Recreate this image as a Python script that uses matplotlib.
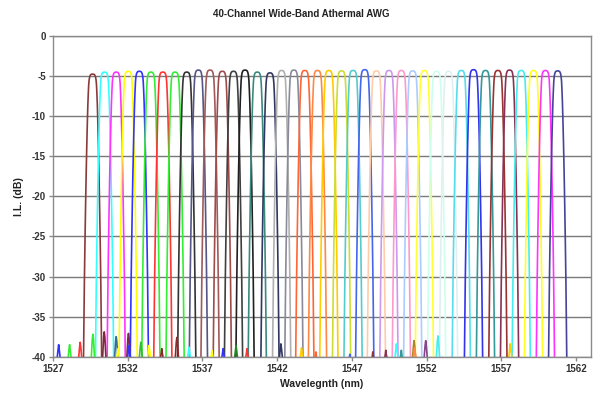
import matplotlib
matplotlib.use("Agg")
import matplotlib.pyplot as plt
import numpy as np

plt.rcParams['font.family'] = ['Liberation Sans', 'DejaVu Sans']

# Channel centre wavelengths (nm) and peak insertion loss (dB)
centers = [1529.65, 1530.45, 1531.23, 1532.03, 1532.78, 1533.55, 1534.35, 1535.17,
           1535.95, 1536.73, 1537.51, 1538.33, 1539.08, 1539.85, 1540.67, 1541.52,
           1542.30, 1543.12, 1543.85, 1544.70, 1545.46, 1546.31, 1547.08, 1547.86,
           1548.64, 1549.48, 1550.31, 1551.07, 1551.85, 1552.67, 1553.47, 1554.32,
           1555.14, 1555.94, 1556.77, 1557.55, 1558.33, 1559.15, 1559.95, 1560.77]
peaks = [-4.75, -4.5, -4.5, -4.4, -4.4, -4.5, -4.5, -4.5, -4.5, -4.25,
         -4.25, -4.4, -4.4, -4.25, -4.5, -4.6, -4.3, -4.25, -4.3, -4.3,
         -4.3, -4.35, -4.3, -4.2, -4.35, -4.3, -4.3, -4.35, -4.3, -4.4,
         -4.4, -4.3, -4.2, -4.3, -4.3, -4.25, -4.3, -4.3, -4.3, -4.35]
colors = ['#8b3a3a', '#33ffff', '#ff33ff', '#ffff00', '#3333ff', '#33ee33', '#ff3333', '#33ee33',
          '#333333', '#555588', '#a05a5a', '#a04a4a', '#404040', '#202020', '#3a8a80', '#303860',
          '#b0b0b0', '#8a8a9a', '#ff6633', '#ff8844', '#ffcc00', '#ccdd33', '#55cccc', '#4466ee',
          '#ffccaa', '#cc99ee', '#ff99cc', '#aaccff', '#ffff33', '#ccffee', '#e0f0f0', '#55ddee',
          '#3333ee', '#339999', '#993333', '#883355', '#44eeee', '#ffff22', '#ff33ff', '#444499']

# Passband profile: offset from centre (nm) and drop below peak (dB)
profile_offset = [0.00, 0.08, 0.14, 0.19, 0.23, 0.26, 0.29, 0.32, 0.35,
                  0.39, 0.43, 0.47, 0.51, 0.55, 0.58, 0.61, 0.64]
profile_drop = [0.0, 0.02, 0.1, 0.3, 0.7, 1.3, 2.5, 4.0, 6.0,
                9.0, 12.5, 16.5, 21.0, 26.0, 31.0, 36.0, 41.0]

# Crosstalk side lobes near the floor: wavelength (nm), level (dB), colour
lobe_wl = [1527.38, 1528.11, 1528.82, 1529.67, 1530.43, 1531.23, 1531.36, 1532.05,
           1532.09, 1532.88, 1533.43, 1534.28, 1535.29, 1536.10, 1537.64, 1538.38,
           1539.25, 1539.98, 1542.25, 1543.63, 1544.59, 1546.86, 1548.40, 1549.27,
           1549.98, 1550.31, 1551.16, 1551.20, 1551.94, 1552.76, 1557.60]
lobe_db = [-38.5, -38.5, -38.2, -37.2, -36.9, -37.5, -39.0, -37.1,
           -38.6, -38.2, -38.6, -39.0, -37.6, -38.8, -39.2, -39.0,
           -38.6, -39.0, -38.4, -38.9, -39.4, -39.7, -39.4, -39.2,
           -38.4, -39.2, -38.0, -38.9, -38.0, -37.4, -38.4]
lobe_colors = ['#3333ff', '#33ee33', '#ff3333', '#33ee33', '#7a2a3a', '#3a6a9a', '#ffff00', '#7a2a4a',
               '#3333ff', '#33bb33', '#ffff00', '#8b2a2a', '#8b2a2a', '#33ffff', '#ffff00', '#3333ff',
               '#228822', '#ff3333', '#303860', '#ffcc00', '#ff6633', '#4466ee', '#993333', '#883355',
               '#33ffff', '#339999', '#aa8822', '#ff8844', '#884488', '#44eeee', '#ffcc00']

x_ticks = [1527, 1532, 1537, 1542, 1547, 1552, 1557, 1562]
y_ticks = [0, -5, -10, -15, -20, -25, -30, -35, -40]

fig = plt.figure(figsize=(5.96, 3.94), dpi=100)
ax = fig.add_axes([0.0889, 0.0947, 0.9027, 0.8139])

off = np.array(profile_offset)
drop = np.array(profile_drop)
prof_x = np.concatenate([-off[::-1], off[1:]])
prof_d = np.concatenate([drop[::-1], drop[1:]])

for c, p, col in zip(centers, peaks, colors):
    ax.plot(c + prof_x, p - prof_d, color=col, lw=1.2, solid_joinstyle='round')

for w, d, col in zip(lobe_wl, lobe_db, lobe_colors):
    ax.plot([w - 0.12, w - 0.04, w, w + 0.04, w + 0.12],
            [-40.5, d - 0.6, d, d - 0.6, -40.5], color=col, lw=1.2)

ax.set_xlim(1527, 1563)
ax.set_ylim(-40, 0)
ax.set_xticks(x_ticks)
ax.set_yticks(y_ticks)
ax.set_yticklabels([str(v) for v in y_ticks])
ax.grid(axis='y', color='#7a7a7a', lw=1.0)
ax.set_axisbelow(True)
for s in ax.spines.values():
    s.set_color('#8a8a8a')
    s.set_linewidth(1.0)
ax.tick_params(axis='both', direction='out', length=3, width=1.0, color='#8a8a8a',
               labelsize=7, labelcolor='#333333', pad=2)
for lab in ax.get_xticklabels() + ax.get_yticklabels():
    lab.set_fontweight('bold')

ax.set_xlabel('Wavelegnth (nm)', fontsize=7.5, fontweight='bold', color='#222222', labelpad=4)
ax.set_ylabel('I.L. (dB)', fontsize=7.5, fontweight='bold', color='#222222', labelpad=6)
fig.text(0.505, 0.964, '40-Channel Wide-Band Athermal AWG', ha='center', va='center',
         fontsize=7, fontweight='bold', color='#222222')

fig.savefig('out.png', dpi=100)
